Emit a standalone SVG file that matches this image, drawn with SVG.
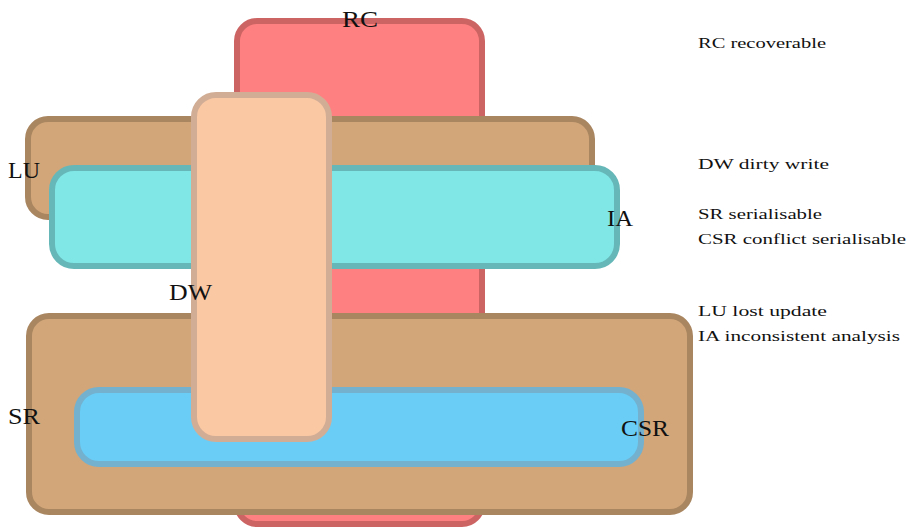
<svg xmlns="http://www.w3.org/2000/svg" width="908" height="527" viewBox="0 0 908 527">
  <style>
    .set { stroke-width: 6; }
    .rc { fill: #ff8080; stroke: #cd6464; }
    .lu { fill: #d2a679; stroke: #a98660; }
    .ia { fill: #80e6e6; stroke: #66b8b8; }
    .dw { fill: #fac8a3; stroke: #d2ad96; }
    .csr { fill: #6acdf5; stroke: #73b1cf; }
    .lbl { font-family: "Liberation Serif", "DejaVu Serif", serif; font-size: 23px; fill: #111; }
    .key { font-family: "Liberation Serif", "DejaVu Serif", serif; font-size: 14px; fill: #111; }
  </style>

  <!-- sets, back to front -->
  <g id="RC">
    <rect class="set rc" x="237" y="21" width="245" height="503" rx="20"/>
  </g>
  <g id="LU">
    <rect class="set lu" x="28" y="119" width="564" height="98" rx="20"/>
  </g>
  <g id="IA">
    <rect class="set ia" x="52" y="168" width="565" height="98" rx="22"/>
  </g>
  <g id="SR">
    <rect class="set lu" x="29" y="316" width="661" height="196" rx="20"/>
  </g>
  <g id="CSR">
    <rect class="set csr" x="77" y="390" width="564" height="74" rx="22"/>
  </g>
  <g id="DW">
    <rect class="set dw" x="194" y="95" width="135" height="344" rx="22"/>
  </g>

  <g id="connectors"></g>

  <!-- set labels -->
  <g id="labels">
    <text class="lbl" x="342" y="27" textLength="36" lengthAdjust="spacingAndGlyphs">RC</text>
    <text class="lbl" x="8" y="178" textLength="32" lengthAdjust="spacingAndGlyphs">LU</text>
    <text class="lbl" x="607" y="226" textLength="26" lengthAdjust="spacingAndGlyphs">IA</text>
    <text class="lbl" x="169" y="300" textLength="43" lengthAdjust="spacingAndGlyphs">DW</text>
    <text class="lbl" x="8" y="424" textLength="32" lengthAdjust="spacingAndGlyphs">SR</text>
    <text class="lbl" x="621" y="436" textLength="48" lengthAdjust="spacingAndGlyphs">CSR</text>
  </g>

  <!-- key -->
  <g id="key">
    <text class="key" x="698" y="48" textLength="128" lengthAdjust="spacingAndGlyphs">RC recoverable</text>
    <text class="key" x="698" y="169" textLength="131" lengthAdjust="spacingAndGlyphs">DW dirty write</text>
    <text class="key" x="698" y="219" textLength="124" lengthAdjust="spacingAndGlyphs">SR serialisable</text>
    <text class="key" x="698" y="244" textLength="208" lengthAdjust="spacingAndGlyphs">CSR conflict serialisable</text>
    <text class="key" x="698" y="316" textLength="129" lengthAdjust="spacingAndGlyphs">LU lost update</text>
    <text class="key" x="698" y="341" textLength="202" lengthAdjust="spacingAndGlyphs">IA inconsistent analysis</text>
  </g>
</svg>
